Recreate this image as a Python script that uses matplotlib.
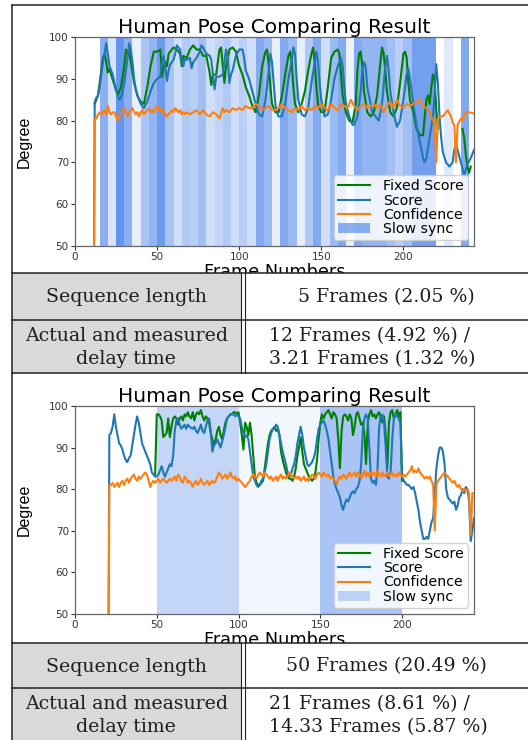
import numpy as np
import matplotlib
matplotlib.use("Agg")
import matplotlib.pyplot as plt
from matplotlib.patches import Rectangle
from matplotlib.lines import Line2D

nan = np.nan

# ---------------- data: top chart (sequence length 5) ----------------
TOP_BAND_START = 15
TOP_BAND_WIDTH = 5
TOP_BAND_ALPHA = [0.75, 0.25, 1.0, 0.75, 0.15, 0.55, 0.7, 0.95, 0.55, 0.3,
                  0.5, 0.45, 0.6, 0.3, 0.4, 0.5, 0.3, 0.45, 0.3, 0.8,
                  0.65, 0.15, 0.8, 0.65, 0.15, 0.5, 0.8, 0.3, 0.65, 0.8,
                  0.12, 0.8, 0.7, 0.7, 0.7, 0.6, 0.45, 0.6, 0.9, 0.9,
                  0.9, 0.0, 0.2, 0.0, 0.8, 0.0]

TOP_FIXED = [(12,84),(14,86),(16,92),(17,95),(18,96),(19,94),(20,91.5),(21,92.5),(22,91),(24,88.5),
             (26,86),(28,88),(30,93),(31,97),(32,96),(33,96.5),(34,94),(36,89),(38,86),(40,84.5),
             (42,84),(44,88),(46,93),(48,96.5),(50,96.5),(52,97),(53,90.5),(54,93),(55,94),(56,93),
             (57,96),(58,96.5),(60,97.5),(62,97),(64,96),(65,93),(66,95.5),(68,95),(70,97),(72,98),
             (74,97),(76,97),(78,95.5),(80,95.5),(82,91.5),(83,88.5),(84,91),(86,91),(88,97),(89,97.5),
             (90,93),(91,89),(92,93),(94,97),(96,97.5),(98,96.5),(100,93),(102,91),(104,88),(106,86),
             (108,83.5),(110,82),(112,86),(114,93),(116,96.5),(117,97),(118,93),(119,88),(120,84),(122,82),
             (124,82),(126,86),(128,91),(130,95.5),(131,96.5),(132,94),(133,88),(134,84),(136,82),(138,84),
             (140,87),(142,92),(144,96),(145,97.5),(146,94),(147,88),(148,84),(150,82),(152,82),(154,88),
             (156,95),(158,96.5),(160,97),(161,96),(162,91),(163,86),(165,82),(167,80),(169,79.5),(171,84),
             (172,92),(173,96),(174,96.5),(175,93),(176,87),(178,82),(180,81),(182,82),(184,86),(186,94),
             (187,97.5),(188,96),(189,92),(190,87),(192,82),(194,81),(196,83),(198,89),(200,96),(201,96.5),
             (202,95),(203,89),(204,85),(206,82),(208,78),(210,76.5),(212,76.5),(213,81),(214,85),(215,86),
             (216,84),(217,88),(218,91),(219,90),(220,83),(221,78),(222,nan),(236,78),(237,76),(238,72),
             (239,69),(240,67.5),(241,69)]

TOP_SCORE = [(11,0),(12,84.5),(13,85.5),(14,86),(15,88),(16,91),(17,94),(18,96),(19,98.5),(20,96),
             (21,93),(22,92),(23,91),(24,89),(25,87.5),(26,86),(27,85),(28,85.5),(29,87),(30,89),
             (31,92),(32,95),(33,98.5),(34,97),(35,94),(36,90),(37,87.5),(38,86),(40,84),(42,83),
             (44,84.5),(46,87),(48,89),(50,90),(52,90.5),(53,94),(54,95.5),(55,93),(56,89.5),(57,92),
             (58,93.5),(60,94.5),(61,96),(62,98),(63,97.5),(64,97),(65,94),(66,93),(67,95),(68,94.5),
             (70,95),(71,92.5),(72,94),(74,95),(76,96.5),(77,98),(78,97.5),(80,96),(82,95.5),(83,94.5),
             (84,91),(85,87.5),(86,90.5),(88,90.5),(90,91),(91,94),(92,97),(93,95),(94,89),(95,91),
             (96,92),(98,95.5),(100,97),(102,97),(103,95),(104,92),(106,90),(108,87),(110,84),(112,81.5),
             (114,81),(116,85),(118,92),(119,96),(120,94),(121,89),(122,84),(123,82),(124,81),(126,81),
             (128,84),(130,90),(132,94.5),(133,97.5),(134,96),(135,90),(136,85),(138,81.5),(140,81),(142,83),
             (144,89),(146,94),(147,96.5),(148,94),(149,89),(150,85),(152,81),(154,81.5),(156,85),(158,90),
             (160,93),(162,95),(163,93),(164,88),(165,84),(167,81),(169,79),(170,79),(172,81),(174,87),
             (175,92),(176,94),(177,93),(178,88),(180,84),(181,82),(183,81),(185,80),(187,84),(189,93),
             (190,95.5),(191,92),(192,87),(194,82),(196,78.5),(198,80),(200,85),(202,91),(203,92.5),(204,90),
             (206,84),(208,79),(210,75),(212,71),(213,70),(214,71),(216,76),(218,81),(219,86),(220,93.5),
             (221,89),(222,81),(223,76),(224,72.5),(226,70),(228,69),(230,70),(231,73),(232,74.5),(233,73),
             (235,70),(237,67),(239,69.5),(241,71),(243,73)]

TOP_CONF = [(11,0),(12,80.5),(13,80.5),(14,81.5),(15,82),(16,81.5),(17,82),(18,82.5),(19,81.5),(20,83.5),
            (21,82),(22,81.5),(23,82),(24,82),(25,81),(26,80),(27,81),(28,81.5),(29,82.5),(30,83),
            (31,82),(32,81),(33,82),(34,82.5),(35,83),(36,82),(37,81.5),(38,82),(39,81),(40,82),
            (41,82.5),(42,81.5),(43,82),(44,82.5),(45,83),(46,82),(47,82.5),(48,82),(49,83),(50,83.5),
            (51,82.5),(52,83),(53,82),(54,82.5),(55,81.5),(56,81),(57,81.5),(58,82),(59,82.5),(60,82),
            (61,83),(62,82.5),(63,82),(64,82.5),(65,81.5),(66,82),(67,81.5),(68,82),(70,81.5),(72,82),
            (74,82.5),(76,81.5),(78,82.5),(80,81.5),(82,81),(84,82),(86,81.5),(88,80.5),(90,83),(91,82),
            (92,82.5),(94,82),(96,83),(98,82.5),(100,83),(102,82.5),(104,83.5),(106,83),(108,83),(110,84),
            (112,83.5),(114,82.5),(116,83),(118,83.5),(120,82.5),(122,82.5),(124,83),(126,84),(128,83),(130,82.5),
            (132,82),(134,83),(136,82.5),(138,83.5),(140,82.5),(142,83),(144,82.5),(146,83.5),(148,83),(150,84),
            (152,83),(154,82.5),(156,84),(158,83),(160,82.5),(162,84),(164,83.5),(166,83),(168,85),(170,83.5),
            (172,82.5),(174,83.5),(176,84),(178,83),(180,83.5),(182,84),(184,83),(186,84),(188,82),(190,83.5),
            (192,84.5),(194,83),(196,85),(198,83.5),(200,83),(202,84),(204,83.5),(206,84),(208,84.5),(210,85),
            (212,83.5),(214,83),(216,82),(217,81),(218,80),(219,80),(220,70),(221,80.5),(222,81),(224,81),
            (226,82),(227,82.5),(229,81),(230,79.5),(231,79),(232,70),(233,79),(235,80.5),(236,80),(238,82),
            (240,82),(243,81.7)]

# ---------------- data: bottom chart (sequence length 50) ----------------
BOT_BAND_START = 50
BOT_BAND_WIDTH = 50
BOT_BAND_ALPHA = [0.38, 0.08, 0.55]

BOT_FIXED = [(49,83.5),(50,98),(51,98),(52,97.5),(53,96.5),(54,92.5),(55,93),(56,93.5),(57,97),(58,92.5),
             (59,95),(60,97),(61,97.5),(62,97),(63,95.5),(64,97),(65,97.5),(66,96.5),(67,98),(68,97.5),
             (69,98.5),(70,97.5),(71,97),(72,98.5),(73,96.5),(74,98),(75,98.5),(76,98),(77,99),(78,97.5),
             (79,96.5),(80,97.5),(81,97),(82,96),(83,93.5),(84,92),(85,90.5),(86,92),(87,94),(88,95),
             (89,93),(90,92),(91,94),(92,96),(93,97),(94,97.5),(95,98),(96,98),(97,98.5),(98,98.5),
             (99,98),(100,98.5),(101,96),(102,93),(103,89.5),(104,96),(105,95),(106,93),(107,96),(108,93),
             (109,88),(110,83),(111,81.5),(112,81),(113,81),(114,81.5),(115,82),(116,85),(117,88),(118,91),
             (119,93),(120,94),(121,94.5),(122,95),(123,94),(124,94.5),(125,93),(126,89),(127,87),(128,85.5),
             (129,84),(130,83),(131,82.5),(132,82.5),(133,82),(134,83),(135,85),(136,88),(137,90),(138,92.5),
             (139,89),(140,86),(141,85),(142,84),(143,83),(144,82.5),(145,82),(146,82.5),(147,84),(148,87),
             (149,92),(150,96),(151,98),(152,97),(153,98),(154,98.5),(155,99),(156,98),(157,97),(158,98.5),
             (159,98),(160,97),(161,92),(162,85),(163,94),(164,97.5),(165,98),(166,97.5),(167,96.5),(168,98),
             (169,97),(170,93),(171,95),(172,98),(173,98.5),(174,97),(175,95.5),(176,96),(177,93),(178,86),
             (179,96),(180,98),(181,99),(182,97.5),(183,98),(184,97),(185,98),(186,98.5),(187,97),(188,96),
             (189,97.5),(190,93),(191,85),(192,96),(193,98.5),(194,99),(195,97),(196,98),(197,99),(198,97.5),
             (199,98.5),(200,82),(201,82)]

BOT_SCORE = [(20,0),(21,93),(22,93.5),(23,95),(24,98),(25,95),(26,93),(27,91),(28,90.5),(29,89.5),
             (30,88),(31,87),(32,86.5),(33,87.5),(34,88),(35,90.5),(36,93),(37,95.5),(38,97.5),(39,96),
             (40,93.5),(41,91),(42,90),(43,89),(44,88),(45,87),(46,86),(47,84),(48,83.5),(49,83),
             (50,83),(51,83.5),(52,84.5),(53,85.5),(54,84),(55,83),(56,84),(57,85),(58,86),(59,85.5),
             (60,88),(61,94),(62,96.5),(63,97),(64,95.5),(65,94.5),(66,95),(67,95.5),(68,94.5),(69,95.5),
             (70,95),(72,94.5),(73,95),(74,94),(75,93.5),(76,94.5),(77,95.5),(78,94),(79,93.5),(80,95),
             (81,96.5),(82,97),(83,94),(84,89),(85,90.5),(86,91),(87,92),(88,91),(89,90),(90,91.5),
             (91,93),(92,95),(93,97),(94,97.5),(95,98),(97,98),(98,97.5),(99,98),(100,97.5),(101,97),
             (102,95),(103,93.5),(104,92.5),(105,93),(106,92),(107,89),(108,86),(109,83),(110,82),(111,81),
             (112,80.5),(113,81),(114,82),(115,82.5),(116,84),(117,86),(118,89),(119,92),(120,93.5),(121,94.5),
             (122,94.5),(123,95.5),(124,95),(125,93),(126,91),(127,89),(128,87.5),(129,86),(130,84),(131,83),
             (132,83.5),(133,85),(134,86),(135,88),(136,91),(137,93),(138,95),(139,93),(140,90),(141,88),
             (142,86),(143,85.5),(144,86),(145,86.5),(146,87.5),(147,89),(148,92),(149,94.5),(150,95.5),(151,96),
             (152,96.5),(153,95.5),(154,94),(155,92),(156,89),(157,86),(158,83),(159,81),(160,80),(161,79),
             (162,78),(163,76),(164,75),(165,76.5),(166,77.5),(167,77),(168,78),(169,79),(170,79.5),(171,79),
             (172,80),(173,80.5),(174,82),(175,86),(176,94),(177,97),(178,98),(179,97),(180,90),(181,82.5),
             (182,81.5),(183,82),(184,81),(185,85),(186,95),(187,97.5),(188,98),(189,96),(190,90),(191,83),
             (192,82.5),(193,84),(194,92),(195,97),(196,98),(197,97.5),(198,97),(199,96),(200,83),(201,82),
             (202,81.5),(203,81),(204,81),(205,80.5),(206,80),(207,80.5),(208,79),(209,77),(210,75),(211,72),
             (212,70),(213,68),(214,68),(215,68.5),(216,68),(217,70),(218,72),(219,73),(220,79),(221,85),
             (222,88),(223,90),(224,90),(225,89),(226,86),(227,80),(228,78),(229,77.5),(230,77),(231,76.5),
             (232,77),(233,75),(234,76),(235,78),(236,78.5),(237,80),(238,79),(239,80.5),(240,80),(241,77),
             (242,67.5),(243,70),(244,73)]

BOT_CONF = [(20,0),(21,81),(22,81),(23,81.5),(24,80.5),(25,81),(26,81.5),(27,80.5),(28,81.5),(29,82),
            (30,81),(31,82),(32,82.5),(33,81.5),(34,82.5),(35,83),(36,83.5),(37,82.5),(38,82),(39,83),
            (40,82.5),(41,83),(42,83.5),(43,84),(44,83.5),(45,82),(46,80.5),(47,81.5),(48,82),(49,81.5),
            (50,82),(51,82.5),(52,81.5),(53,82),(54,82.5),(55,82),(56,81.5),(57,82),(58,82.5),(59,82),
            (60,82.5),(61,83),(62,82),(63,83.5),(64,83),(65,82),(66,81.5),(67,83),(68,82.5),(69,81.5),
            (70,82),(71,81.5),(72,80.5),(73,81.5),(74,82),(75,81),(76,81.5),(77,82.5),(78,81.5),(79,81),
            (80,81.5),(81,82),(82,81),(83,81.5),(84,82),(85,81.5),(86,82),(87,83),(88,84),(89,83.5),
            (90,82.5),(91,83),(92,83.5),(93,82.5),(94,83),(95,84),(96,83),(97,82.5),(98,83),(99,82),
            (100,82.5),(101,82),(102,81.5),(103,81),(104,80.5),(105,81),(106,81.5),(107,82),(108,83),(109,83.5),
            (110,83),(111,82.5),(112,83.5),(113,84),(114,83.5),(115,83),(116,84),(117,83.5),(118,83),(119,82.5),
            (120,83),(121,82),(122,82.5),(123,83),(124,82),(125,83),(126,83.5),(127,82.5),(128,83),(129,82.5),
            (130,83),(131,84),(132,83.5),(133,83),(134,82.5),(135,83),(136,82.5),(137,83),(138,82),(139,82.5),
            (140,83),(141,82),(142,82.5),(143,82),(144,83),(145,83.5),(146,83),(147,82.5),(148,83.5),(149,84),
            (150,83.5),(151,83),(152,84),(153,83.5),(154,83),(155,83.5),(156,82.5),(157,83),(158,82.5),(159,82),
            (160,81),(161,82.5),(162,83),(163,82.5),(164,83.5),(165,83),(166,82.5),(167,83.5),(168,84),(169,83),
            (170,83.5),(171,84),(172,83),(173,84),(174,83.5),(175,82.5),(176,83.5),(177,84.5),(178,83),(179,84),
            (180,83),(181,84),(182,83.5),(183,84),(184,83),(185,84.5),(186,83.5),(187,83),(188,84),(189,83),
            (190,83.5),(191,84),(192,83),(193,83.5),(194,84),(195,83),(196,83.5),(197,83),(198,84),(199,83.5),
            (200,83),(201,83.5),(202,83),(203,83.5),(204,84),(205,84.5),(206,85.5),(207,84),(208,84.5),(209,84),
            (210,85),(211,84),(212,83.5),(213,83),(214,82.5),(215,83),(216,82.5),(217,83),(218,82),(219,81),
            (220,70),(221,81),(222,82),(223,82.5),(224,83),(225,83.5),(226,84),(227,83.5),(228,83),(229,82.5),
            (230,82),(231,81.5),(232,82),(233,81),(234,80.5),(235,81),(236,80),(237,79.5),(238,80),(239,79.5),
            (240,80),(241,79),(242,69),(243,79),(244,79)]

X_TICKS = [0, 50, 100, 150, 200]
Y_TICKS = [50, 60, 70, 80, 90, 100]
LEGEND_LABELS = ["Fixed Score", "Score", "Confidence", "Slow sync"]
TITLE = "Human Pose Comparing Result"

ROW_LABELS = ["Sequence length", "Actual and measured\ndelay time"]
SEQ_VALUES = ["5 Frames (2.05 %)", "50 Frames (20.49 %)"]
DELAY_VALUES = ["12 Frames (4.92 %) /\n3.21 Frames (1.32 %)",
                "21 Frames (8.61 %) /\n14.33 Frames (5.87 %)"]

# ---------------- layout helpers ----------------
W, H = 528, 740
fig = plt.figure(figsize=(W / 100, H / 100), dpi=100)
fig.patch.set_facecolor("white")


def fx(px):
    return px / W


def fy(py):
    return 1 - py / H


BAND_COLOR = "#6495ED"


def draw_chart(ax, band_start, band_width, band_alpha, fixed, score, conf, xmax):
    first_patch = None
    for i, a in enumerate(band_alpha):
        if a <= 0:
            continue
        s = band_start + i * band_width
        p = ax.axvspan(s, s + band_width, color=BAND_COLOR, alpha=a, lw=0, zorder=1)
        if first_patch is None:
            first_patch = p
    fxs, fvs = zip(*fixed)
    sxs, svs = zip(*score)
    cxs, cvs = zip(*conf)
    l1, = ax.plot(fxs, fvs, color="green", lw=1.5, zorder=3)
    l2, = ax.plot(sxs, svs, color="#1f77b4", lw=1.5, zorder=4)
    l3, = ax.plot(cxs, cvs, color="#ff7f0e", lw=1.5, zorder=5)
    ax.set_xlim(0, xmax)
    ax.set_ylim(50, 100)
    ax.set_xticks(X_TICKS)
    ax.set_yticks(Y_TICKS)
    ax.tick_params(labelsize=7.5, length=3, width=0.8, pad=1.5, colors="#333333")
    for sp in ax.spines.values():
        sp.set_color("#666666")
        sp.set_linewidth(0.9)
    ax.set_title(TITLE, fontsize=14.5, pad=3)
    ax.set_xlabel("Frame Numbers", fontsize=12.7, labelpad=0.5)
    ax.set_ylabel("Degree", fontsize=11.5, family=["Liberation Sans", "DejaVu Sans"])
    ax.yaxis.set_label_coords(-0.109, 0.5)
    leg = ax.legend([l1, l2, l3, first_patch], LEGEND_LABELS, loc="lower right",
                    fontsize=10.2, labelspacing=0.02, borderpad=0.3, handlelength=2.3,
                    handletextpad=0.9, framealpha=0.85, fancybox=True,
                    borderaxespad=0.4)
    leg.get_frame().set_edgecolor("#cccccc")


ax1 = fig.add_axes([fx(75), fy(246), fx(474) - fx(75), (246 - 37) / H])
draw_chart(ax1, TOP_BAND_START, TOP_BAND_WIDTH, TOP_BAND_ALPHA,
           TOP_FIXED, TOP_SCORE, TOP_CONF, 243)

ax2 = fig.add_axes([fx(75), fy(613.7), fx(474) - fx(75), (613.7 - 406) / H])
draw_chart(ax2, BOT_BAND_START, BOT_BAND_WIDTH, BOT_BAND_ALPHA,
           BOT_FIXED, BOT_SCORE, BOT_CONF, 244)

# ---------------- table framing ----------------
GREY = "#d9d9d9"
LINE = "#222222"
LEFT, MID1, MID2, RIGHT = 11.7, 241.0, 244.6, 528.0
serif = ["DejaVu Serif"]
TXT = "#1e1e1e"
FS = 13.6

row_blocks = [(273, 320, 373), (643, 688, 741)]
for bi, (y0, y1, y2) in enumerate(row_blocks):
    for (ya, yb) in [(y0, y1), (y1, y2)]:
        fig.add_artist(Rectangle((fx(LEFT), fy(yb)), fx(MID1) - fx(LEFT), (yb - ya) / H,
                                 transform=fig.transFigure, facecolor=GREY, edgecolor="none", zorder=20))
        fig.add_artist(Rectangle((fx(MID1), fy(yb)), fx(RIGHT) - fx(MID1), (yb - ya) / H,
                                 transform=fig.transFigure, facecolor="white", edgecolor="none", zorder=20))
    for yy in (y0, y1, y2):
        fig.add_artist(Line2D([fx(LEFT), fx(RIGHT)], [fy(yy), fy(yy)], transform=fig.transFigure,
                              color=LINE, lw=1.1, zorder=22))
    for xx in (MID1, MID2):
        fig.add_artist(Line2D([fx(xx), fx(xx)], [fy(y0), fy(y2)], transform=fig.transFigure,
                              color=LINE, lw=0.8, zorder=22))

    fig.text(fx((LEFT + MID1) / 2), fy((y0 + y1) / 2 + 1), ROW_LABELS[0], ha="center", va="center",
             fontsize=FS, family=serif, color=TXT, zorder=25)
    fig.text(fx((LEFT + MID1) / 2), fy((y1 + y2) / 2 + 1), ROW_LABELS[1], ha="center", va="center",
             fontsize=FS, family=serif, color=TXT, linespacing=1.35, zorder=25)
    fig.text(fx((MID2 + RIGHT) / 2), fy((y0 + y1) / 2 + 1), SEQ_VALUES[bi], ha="center", va="center",
             fontsize=FS, family=serif, color=TXT, zorder=25)
    fig.text(fx(269), fy((y1 + y2) / 2 + 1), DELAY_VALUES[bi], ha="left", va="center",
             fontsize=FS, family=serif, color=TXT, linespacing=1.35, zorder=25)

# outer border
fig.add_artist(Line2D([fx(LEFT), fx(LEFT)], [fy(5), fy(741)], transform=fig.transFigure,
                      color=LINE, lw=1.1, zorder=22))
fig.add_artist(Line2D([fx(LEFT), fx(RIGHT)], [fy(5), fy(5)], transform=fig.transFigure,
                      color=LINE, lw=1.1, zorder=22))

fig.savefig("out.png", dpi=100, facecolor="white")
